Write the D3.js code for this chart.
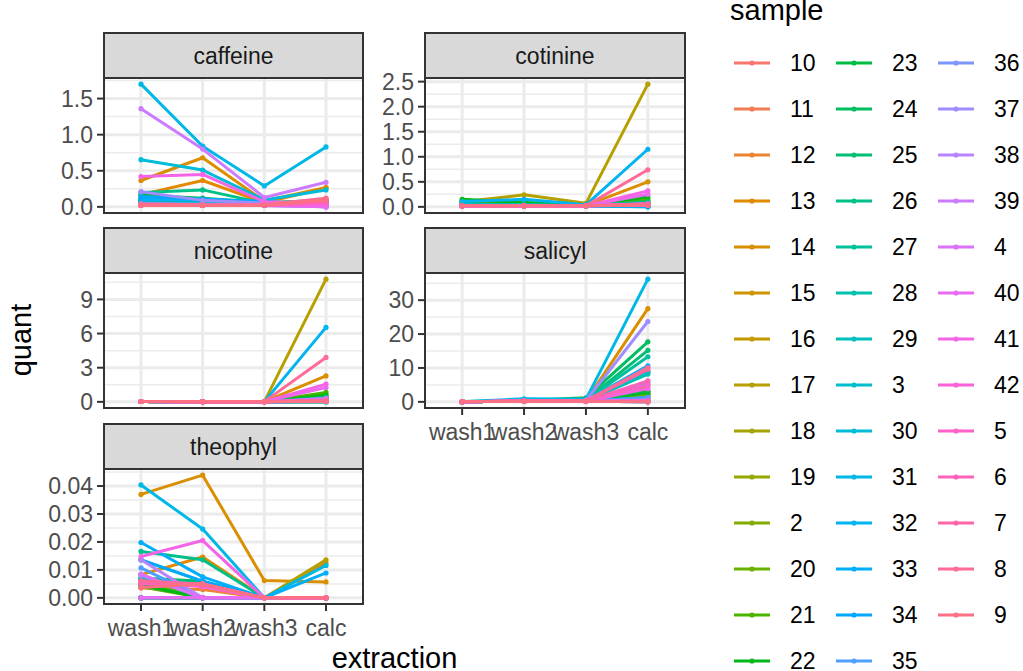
<!DOCTYPE html>
<html>
<head>
<meta charset="utf-8">
<script src="https://cdn.jsdelivr.net/npm/d3@7"></script>
<style>
  body { margin: 0; background: #fff; }
  text { font-family: "Liberation Sans", Arial, sans-serif; }
</style>
</head>
<body>
<svg id="chart" width="1023" height="671"></svg>
<script>
// extraction steps (x axis categories)
const extractions = ["wash1", "wash2", "wash3", "calc"];

// samples in legend (factor) order
const samples = ["10", "11", "12", "13", "14", "15", "16", "17", "18", "19", "2",
    "20", "21", "22", "23", "24", "25", "26", "27", "28", "29", "3",
    "30", "31", "32", "33", "34", "35", "36", "37", "38", "39", "4",
    "40", "41", "42", "5", "6", "7", "8", "9"];

// one row per sample (same order as samples): wash1, wash2, wash3, calc
const caffeine = [
    [0.03, 0.02, 0.02, 0.06], [0.02, 0.02, 0.02, 0.04], [0.04, 0.03, 0.03, 0.08],
    [0.17, 0.365, 0.06, 0.26], [0.365, 0.68, 0.08, 0.27], [0.05, 0.04, 0.03, 0.05],
    [0.03, 0.02, 0.02, 0.03], [0.06, 0.05, 0.04, 0.07], [0.02, 0.02, 0.02, 0.02],
    [0.03, 0.02, 0.02, 0.03], [0.04, 0.03, 0.03, 0.05], [0.07, 0.05, 0.03, 0.04],
    [0.09, 0.07, 0.04, 0.05], [0.086, 0.07, 0.05, 0.05], [0.166, 0.12, 0.06, 0.08],
    [0.12, 0.10, 0.05, 0.06], [0.05, 0.04, 0.03, 0.03], [0.20, 0.235, 0.05, 0.10],
    [0.04, 0.03, 0.02, 0.04], [0.06, 0.05, 0.04, 0.05], [0.02, 0.02, 0.02, 0.02],
    [0.03, 0.03, 0.02, 0.03], [0.653, 0.51, 0.096, 0.235], [1.70, 0.84, 0.29, 0.83],
    [0.12, 0.10, 0.08, 0.00], [0.10, 0.09, 0.06, 0.05], [0.14, 0.11, 0.07, 0.02],
    [0.05, 0.04, 0.03, 0.00], [0.03, 0.03, 0.02, 0.01], [0.21, 0.09, 0.05, 0.00],
    [0.04, 0.03, 0.02, 0.00], [1.36, 0.80, 0.13, 0.34], [0.02, 0.02, 0.02, 0.02],
    [0.03, 0.02, 0.02, 0.00], [0.42, 0.45, 0.07, 0.05], [0.02, 0.02, 0.02, 0.03],
    [0.02, 0.02, 0.02, 0.09], [0.03, 0.02, 0.03, 0.11], [0.02, 0.02, 0.02, 0.07],
    [0.04, 0.03, 0.03, 0.12], [0.02, 0.02, 0.02, 0.10]
];

const cotinine = [
    [0.02, 0.02, 0.02, 0.03], [0.02, 0.02, 0.02, 0.02], [0.03, 0.02, 0.02, 0.05],
    [0.04, 0.03, 0.02, 0.08], [0.03, 0.03, 0.03, 0.50], [0.02, 0.02, 0.02, 0.04],
    [0.03, 0.03, 0.02, 0.06], [0.10, 0.24, 0.07, 2.45], [0.02, 0.02, 0.02, 0.03],
    [0.02, 0.02, 0.02, 0.02], [0.03, 0.02, 0.02, 0.04], [0.08, 0.05, 0.03, 0.12],
    [0.12, 0.08, 0.03, 0.15], [0.15, 0.085, 0.03, 0.20], [0.06, 0.04, 0.02, 0.08],
    [0.05, 0.04, 0.02, 0.06], [0.04, 0.03, 0.02, 0.05], [0.05, 0.04, 0.02, 0.10],
    [0.03, 0.03, 0.02, 0.04], [0.03, 0.02, 0.02, 0.03], [0.02, 0.02, 0.02, 0.02],
    [0.02, 0.02, 0.02, 0.00], [0.02, 0.02, 0.01, 0.00], [0.03, 0.03, 0.02, 0.02],
    [0.105, 0.15, 0.04, 1.15], [0.03, 0.03, 0.02, 0.02], [0.02, 0.02, 0.02, 0.01],
    [0.02, 0.02, 0.02, 0.03], [0.02, 0.02, 0.02, 0.04], [0.02, 0.02, 0.02, 0.05],
    [0.02, 0.02, 0.02, 0.05], [0.02, 0.02, 0.02, 0.03], [0.02, 0.02, 0.02, 0.06],
    [0.02, 0.02, 0.02, 0.25], [0.02, 0.02, 0.02, 0.32], [0.02, 0.02, 0.02, 0.04],
    [0.02, 0.02, 0.02, 0.05], [0.02, 0.02, 0.02, 0.04], [0.02, 0.02, 0.02, 0.06],
    [0.02, 0.02, 0.02, 0.74], [0.02, 0.02, 0.02, 0.03]
];

const nicotine = [
    [0.03, 0.02, 0.02, 0.05], [0.03, 0.02, 0.02, 0.02], [0.03, 0.02, 0.02, 0.10],
    [0.03, 0.02, 0.02, 0.15], [0.03, 0.02, 0.02, 2.28], [0.03, 0.02, 0.02, 0.05],
    [0.03, 0.02, 0.02, 0.08], [0.03, 0.02, 0.02, 10.78], [0.03, 0.02, 0.02, 0.02],
    [0.03, 0.02, 0.02, 0.03], [0.03, 0.02, 0.02, 0.05], [0.03, 0.02, 0.02, 0.45],
    [0.03, 0.02, 0.02, 0.83], [0.03, 0.02, 0.02, 0.59], [0.03, 0.02, 0.02, 0.30],
    [0.03, 0.02, 0.02, 0.20], [0.03, 0.02, 0.02, 0.15], [0.03, 0.02, 0.02, 0.39],
    [0.03, 0.02, 0.02, 0.10], [0.03, 0.02, 0.02, 0.05], [0.03, 0.02, 0.02, 0.02],
    [0.03, 0.02, 0.02, 0.02], [0.03, 0.02, 0.02, 0.02], [0.03, 0.02, 0.02, 0.05],
    [0.03, 0.02, 0.02, 6.54], [0.03, 0.02, 0.02, 0.05], [0.03, 0.02, 0.02, 0.09],
    [0.03, 0.02, 0.02, 0.03], [0.03, 0.02, 0.02, 0.05], [0.03, 0.02, 0.02, 0.10],
    [0.03, 0.02, 0.02, 0.08], [0.03, 0.02, 0.02, 0.05], [0.03, 0.02, 0.02, 0.30],
    [0.03, 0.02, 0.02, 1.26], [0.03, 0.02, 0.02, 1.56], [0.03, 0.02, 0.02, 0.10],
    [0.03, 0.02, 0.02, 0.15], [0.03, 0.02, 0.02, 0.12], [0.03, 0.02, 0.02, 0.10],
    [0.03, 0.02, 0.02, 3.90], [0.03, 0.02, 0.02, 0.05]
];

const salicyl = [
    [0.05, 0.2, 0.2, 2.1], [0.05, 0.2, 0.2, 1.8], [0.05, 0.2, 0.2, 2.5],
    [0.05, 0.2, 0.3, 4.6], [0.05, 0.3, 0.3, 27.5], [0.05, 0.2, 0.2, 1.0],
    [0.05, 0.2, 0.2, 0.5], [0.05, 0.2, 0.2, 5.9], [0.05, 0.2, 0.2, 0.3],
    [0.05, 0.2, 0.2, 0.4], [0.05, 0.2, 0.2, 0.6], [0.05, 0.2, 0.2, 2.2],
    [0.05, 0.2, 0.3, 3.2], [0.05, 0.2, 0.2, 2.8], [0.05, 0.2, 0.3, 3.2],
    [0.10, 0.4, 1.2, 17.7], [0.05, 0.3, 0.5, 15.2], [0.05, 0.2, 0.3, 9.0],
    [0.05, 0.3, 0.5, 13.3], [0.05, 0.2, 0.3, 8.2], [0.05, 0.2, 0.3, 8.7],
    [0.05, 0.2, 0.2, 0.0], [0.05, 0.2, 0.2, 0.2], [0.05, 0.9, 0.8, 36.2],
    [0.05, 0.2, 0.2, 0.0], [0.05, 0.3, 0.4, 10.6], [0.05, 0.2, 0.2, 1.3],
    [0.05, 0.2, 0.2, 1.3], [0.05, 0.2, 0.2, 5.2], [0.05, 0.3, 0.4, 23.7],
    [0.05, 0.2, 0.2, 0.4], [0.05, 0.2, 0.2, 0.3], [0.05, 0.2, 0.2, 0.0],
    [0.05, 0.2, 0.2, 0.0], [0.05, 0.2, 0.2, 3.9], [0.05, 0.2, 0.2, 0.5],
    [0.05, 0.2, 0.2, 5.0], [0.05, 0.2, 0.2, 6.2], [0.05, 0.2, 0.3, 9.6],
    [0.05, 0.2, 0.3, 10.1], [0.05, 0.2, 0.2, 0.0]
];

const theophyl = [
    [0.0041, 0.0047, 0, 0], [0.005, 0.0045, 0, 0], [0.0035, 0.003, 0, 0],
    [0.0083, 0.0146, 0, 0.0125], [0.037, 0.0439, 0.0062, 0.0057], [0, 0, 0, 0],
    [0, 0, 0, 0], [0.006, 0.0047, 0, 0.0136], [0, 0, 0, 0],
    [0, 0, 0, 0], [0, 0, 0, 0], [0.004, 0, 0, 0],
    [0.0053, 0, 0, 0], [0.0045, 0, 0, 0], [0.0053, 0.005, 0, 0],
    [0.0071, 0.0059, 0, 0], [0.0066, 0.005, 0, 0], [0.0166, 0.0136, 0, 0],
    [0.0136, 0.0059, 0, 0], [0.007, 0.005, 0, 0], [0, 0, 0, 0],
    [0, 0, 0, 0], [0, 0, 0, 0], [0.0404, 0.0246, 0, 0.0116],
    [0, 0, 0, 0], [0.0198, 0.0075, 0, 0.0089], [0.0136, 0.006, 0, 0],
    [0.0107, 0, 0, 0], [0.008, 0, 0, 0], [0.0083, 0, 0, 0],
    [0.0136, 0, 0, 0], [0, 0, 0, 0], [0.0085, 0, 0, 0],
    [0, 0, 0, 0], [0.0148, 0.0205, 0, 0], [0.006, 0.004, 0, 0],
    [0.005, 0.005, 0, 0], [0.0055, 0.005, 0, 0], [0.006, 0.005, 0, 0],
    [0.006, 0.0047, 0, 0], [0.0037, 0.005, 0, 0]
];

// y tick values per facet
const caffeineTicks = [0, 0.5, 1.0, 1.5];
const cotinineTicks = [0, 0.5, 1.0, 1.5, 2.0, 2.5];
const nicotineTicks = [0, 3, 6, 9];
const salicylTicks = [0, 10, 20, 30];
const theophylTicks = [0, 0.01, 0.02, 0.03, 0.04];

const facets = [
    { name: "caffeine", values: caffeine, ticks: caffeineTicks, fmt: ".1f", row: 0, col: 0 },
    { name: "cotinine", values: cotinine, ticks: cotinineTicks, fmt: ".1f", row: 0, col: 1 },
    { name: "nicotine", values: nicotine, ticks: nicotineTicks, fmt: "d", row: 1, col: 0 },
    { name: "salicyl", values: salicyl, ticks: salicylTicks, fmt: "d", row: 1, col: 1 },
    { name: "theophyl", values: theophyl, ticks: theophylTicks, fmt: ".2f", row: 2, col: 0 }
];

// ggplot-style hue palette (polar LUV, l = 65, c = 100)
function hueColor(h) {
    const L = 65, C = 100;
    const hr = h * Math.PI / 180;
    const U = C * Math.cos(hr), V = C * Math.sin(hr);
    const Y = Math.pow((L + 16) / 116, 3);
    const u = U / (13 * L) + 0.1978398;
    const v = V / (13 * L) + 0.4683363;
    const X = 9 * Y * u / (4 * v);
    const Z = -X / 3 - 5 * Y + 3 * Y / v;
    const lin = [
        3.240479 * X - 1.537150 * Y - 0.498535 * Z,
        -0.969256 * X + 1.875992 * Y + 0.041556 * Z,
        0.055648 * X - 0.204043 * Y + 1.057311 * Z
    ];
    const c = lin.map(t => {
        const g = t <= 0.0031308 ? 12.92 * t : 1.055 * Math.pow(t, 1 / 2.4) - 0.055;
        return Math.round(255 * Math.max(0, Math.min(1, g)));
    });
    return d3.rgb(c[0], c[1], c[2]).formatHex();
}

const n = samples.length;
const color = d3.scaleOrdinal()
    .domain(samples)
    .range(samples.map((s, i) => hueColor(15 + i * 360 / n)));

const svg = d3.select("#chart");
svg.append("rect").attr("width", 1023).attr("height", 671).attr("fill", "#fff");

const colX = [[104, 363], [425, 685]];
const stripTop = [33, 228, 424];
const stripH = 45;
const panelH = 135;

facets.forEach(f => {
    const [x0, x1] = colX[f.col];
    const top = stripTop[f.row] + stripH;
    const bottom = top + panelH;

    const x = d3.scalePoint().domain(extractions).range([x0, x1]).padding(0.6);
    const maxV = d3.max(f.values, r => d3.max(r));
    const y = d3.scaleLinear().domain([-0.05 * maxV, maxV * 1.05]).range([bottom, top]);

    const g = svg.append("g");

    // minor grid halfway between major ticks
    const step = f.ticks[1] - f.ticks[0];
    const minor = d3.range(-1, f.ticks.length).map(i => f.ticks[0] + (i + 0.5) * step)
        .filter(v => v >= y.domain()[0] && v <= y.domain()[1]);
    g.selectAll(".minor").data(minor).enter().append("line")
        .attr("x1", x0).attr("x2", x1)
        .attr("y1", d => y(d)).attr("y2", d => y(d))
        .attr("stroke", "#EBEBEB").attr("stroke-width", 1.5);
    g.selectAll(".major").data(f.ticks).enter().append("line")
        .attr("x1", x0).attr("x2", x1)
        .attr("y1", d => y(d)).attr("y2", d => y(d))
        .attr("stroke", "#EBEBEB").attr("stroke-width", 3);
    g.selectAll(".vmajor").data(extractions).enter().append("line")
        .attr("x1", d => x(d)).attr("x2", d => x(d))
        .attr("y1", top).attr("y2", bottom)
        .attr("stroke", "#EBEBEB").attr("stroke-width", 3);

    // lines and points, drawn in sample order
    const line = d3.line().x((d, i) => x(extractions[i])).y(d => y(d));
    samples.forEach((s, i) => {
        const row = f.values[i];
        g.append("path")
            .attr("d", line(row))
            .attr("fill", "none")
            .attr("stroke", color(s))
            .attr("stroke-width", 3)
            .attr("stroke-linejoin", "round");
        g.selectAll(null).data(row).enter().append("circle")
            .attr("cx", (d, j) => x(extractions[j]))
            .attr("cy", d => y(d))
            .attr("r", 2.6)
            .attr("fill", color(s));
    });

    // panel border and strip
    g.append("rect")
        .attr("x", x0).attr("y", top).attr("width", x1 - x0).attr("height", panelH)
        .attr("fill", "none").attr("stroke", "#333333").attr("stroke-width", 2);
    g.append("rect")
        .attr("x", x0).attr("y", stripTop[f.row]).attr("width", x1 - x0).attr("height", stripH)
        .attr("fill", "#D9D9D9").attr("stroke", "#333333").attr("stroke-width", 2);
    g.append("text")
        .attr("x", (x0 + x1) / 2).attr("y", stripTop[f.row] + stripH / 2)
        .attr("dy", "0.35em").attr("text-anchor", "middle")
        .attr("font-size", 23).attr("fill", "#1A1A1A")
        .text(f.name);

    // y axis
    const fmt = d3.format(f.fmt);
    g.selectAll(".ytick").data(f.ticks).enter().append("line")
        .attr("x1", x0 - 7).attr("x2", x0)
        .attr("y1", d => y(d)).attr("y2", d => y(d))
        .attr("stroke", "#333333").attr("stroke-width", 2);
    g.selectAll(".ylab").data(f.ticks).enter().append("text")
        .attr("x", x0 - 11).attr("y", d => y(d))
        .attr("dy", "0.36em").attr("text-anchor", "end")
        .attr("font-size", 23).attr("fill", "#4D4D4D")
        .text(d => fmt(d));

    // x axis only on bottom panel of each column
    const isBottom = (f.col === 0 && f.row === 2) || (f.col === 1 && f.row === 1);
    if (isBottom) {
        g.selectAll(".xtick").data(extractions).enter().append("line")
            .attr("x1", d => x(d)).attr("x2", d => x(d))
            .attr("y1", bottom).attr("y2", bottom + 7)
            .attr("stroke", "#333333").attr("stroke-width", 2);
        g.selectAll(".xlab").data(extractions).enter().append("text")
            .attr("x", d => x(d)).attr("y", bottom + 32)
            .attr("text-anchor", "middle")
            .attr("font-size", 23).attr("fill", "#4D4D4D")
            .text(d => d);
    }
});

// axis titles
svg.append("text")
    .attr("transform", "translate(31,340) rotate(-90)")
    .attr("text-anchor", "middle").attr("font-size", 29).attr("fill", "#000")
    .text("quant");
svg.append("text")
    .attr("x", 394.5).attr("y", 668)
    .attr("text-anchor", "middle").attr("font-size", 29).attr("fill", "#000")
    .text("extraction");

// legend: 3 columns, filled column by column (overflows the page like the original)
const legend = svg.append("g");
legend.append("text")
    .attr("x", 730).attr("y", 20)
    .attr("font-size", 29).attr("fill", "#000")
    .text("sample");

const perCol = 14;
const legCols = [734, 836, 938];
const items = legend.selectAll(".item").data(samples).enter().append("g")
    .attr("transform", (d, i) => `translate(${legCols[Math.floor(i / perCol)]}, ${63 + (i % perCol) * 46})`);
items.append("line")
    .attr("x1", 0).attr("x2", 36)
    .attr("stroke", d => color(d)).attr("stroke-width", 3);
items.append("circle")
    .attr("cx", 18).attr("r", 2.6)
    .attr("fill", d => color(d));
items.append("text")
    .attr("x", 56).attr("dy", "0.36em")
    .attr("font-size", 23).attr("fill", "#000")
    .text(d => d);
</script>
</body>
</html>
